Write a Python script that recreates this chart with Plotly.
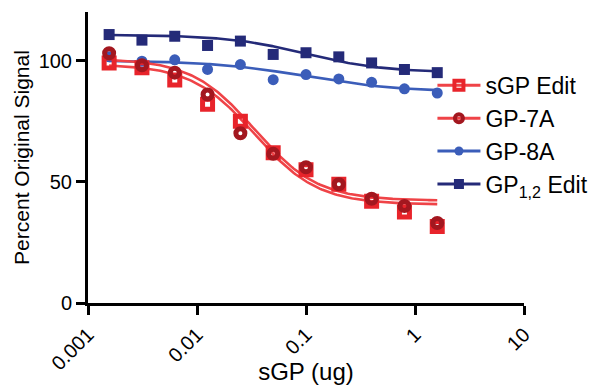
import numpy as np
import plotly.graph_objects as go

# ---- data ----
dose_ug = [0.0015625, 0.003125, 0.00625, 0.0125, 0.025, 0.05, 0.1, 0.2, 0.4, 0.8, 1.6]

sgp_edit = [99, 97, 92, 82, 75, 62, 55, 49, 42, 37.5, 31.5]
gp_7a = [103, 98, 95, 86, 70, 61.5, 56, 49, 43, 40, 33]
gp_8a = [101.5, 99.7, 100.3, 96.3, 98.3, 92.1, 94.2, 92.4, 91, 88.3, 86.6]
gp12_edit = [110.7, 108.4, 110, 106.2, 108, 102.5, 103.2, 101.5, 99, 96.3, 95]

# four-parameter logistic fit parameters (top, bottom, logEC50, hill)
fit_sgp = (98.5, 40.6, -1.47, 1.5)
fit_7a = (100.8, 42.2, -1.47, 1.5)
fit_8a = (100.0, 87.0, -1.0, 1.0)
fit_12 = (110.6, 95.0, -1.0, 1.2)

x_ticks = [0.001, 0.01, 0.1, 1, 10]
x_tick_text = ["0.001", "0.01", "0.1", "1", "10"]
y_ticks = [0, 50, 100]

RED = "#E8242B"
RED_LINE = "#EF4347"
DARK_RED = "#A3171F"
BLUE = "#3B5DB9"
NAVY = "#242A78"
FONT = "Arial, Liberation Sans, sans-serif"


def logistic(params, x):
    top, bottom, logec50, hill = params
    x = np.asarray(x, dtype=float)
    return bottom + (top - bottom) / (1 + 10 ** ((np.log10(x) - logec50) * hill))


xs = np.logspace(np.log10(dose_ug[0]), np.log10(dose_ug[-1]), 200)

fig = go.Figure()

# fitted curves
for params, col in [(fit_12, NAVY), (fit_8a, BLUE), (fit_sgp, RED_LINE), (fit_7a, RED_LINE)]:
    fig.add_trace(go.Scatter(x=xs, y=logistic(params, xs), mode="lines",
                             line=dict(color=col, width=2.6), showlegend=False,
                             hoverinfo="skip"))

# data points
fig.add_trace(go.Scatter(x=dose_ug, y=gp12_edit, mode="markers", showlegend=False,
                         marker=dict(symbol="square", size=11, color=NAVY)))
fig.add_trace(go.Scatter(x=dose_ug, y=gp_8a, mode="markers", showlegend=False,
                         marker=dict(symbol="circle", size=11, color=BLUE)))
fig.add_trace(go.Scatter(x=dose_ug, y=sgp_edit, mode="markers", showlegend=False,
                         marker=dict(symbol="square-open", size=10, color=RED,
                                     line=dict(width=5, color=RED))))
fig.add_trace(go.Scatter(x=dose_ug, y=gp_7a, mode="markers", showlegend=False,
                         marker=dict(symbol="circle-open", size=9, color=DARK_RED,
                                     line=dict(width=5, color=DARK_RED))))

# legend entries
legend_items = [
    ("sGP Edit", RED_LINE, dict(symbol="square-open", size=9, color=RED, line=dict(width=4, color=RED))),
    ("GP-7A", RED_LINE, dict(symbol="circle-open", size=8, color=DARK_RED, line=dict(width=4, color=DARK_RED))),
    ("GP-8A", BLUE, dict(symbol="circle", size=9, color=BLUE)),
    ("GP<sub>1,2</sub> Edit", NAVY, dict(symbol="square", size=10, color=NAVY)),
]
for name, lc, mk in legend_items:
    fig.add_trace(go.Scatter(x=[None], y=[None], mode="lines+markers", name=name,
                             line=dict(color=lc, width=3), marker=mk))

axis_common = dict(showline=True, linecolor="black", linewidth=3, ticks="outside",
                   ticklen=9, tickwidth=3, tickcolor="black", showgrid=False,
                   zeroline=False, mirror=False, automargin=False,
                   tickfont=dict(family=FONT, size=20, color="black"))

fig.update_xaxes(type="log", range=[-3, 1], tickvals=x_ticks, ticktext=x_tick_text,
                 tickangle=-45,
                 title=dict(text="sGP (ug)", font=dict(family=FONT, size=24, color="black"),
                            standoff=0),
                 **axis_common)
fig.update_yaxes(range=[0, 120], tickvals=y_ticks,
                 title=dict(text="Percent Original Signal",
                            font=dict(family=FONT, size=21, color="black"), standoff=4),
                 **axis_common)

fig.update_layout(
    width=593, height=385,
    margin=dict(l=88, r=69, t=12, b=82, autoexpand=False),
    plot_bgcolor="white", paper_bgcolor="white",
    font=dict(family=FONT, color="black"),
    legend=dict(x=0.79, y=0.822, xanchor="left", yanchor="top",
                font=dict(family=FONT, size=23, color="black"),
                bgcolor="rgba(0,0,0,0)", itemwidth=43),
)

fig.write_html("out.html")
